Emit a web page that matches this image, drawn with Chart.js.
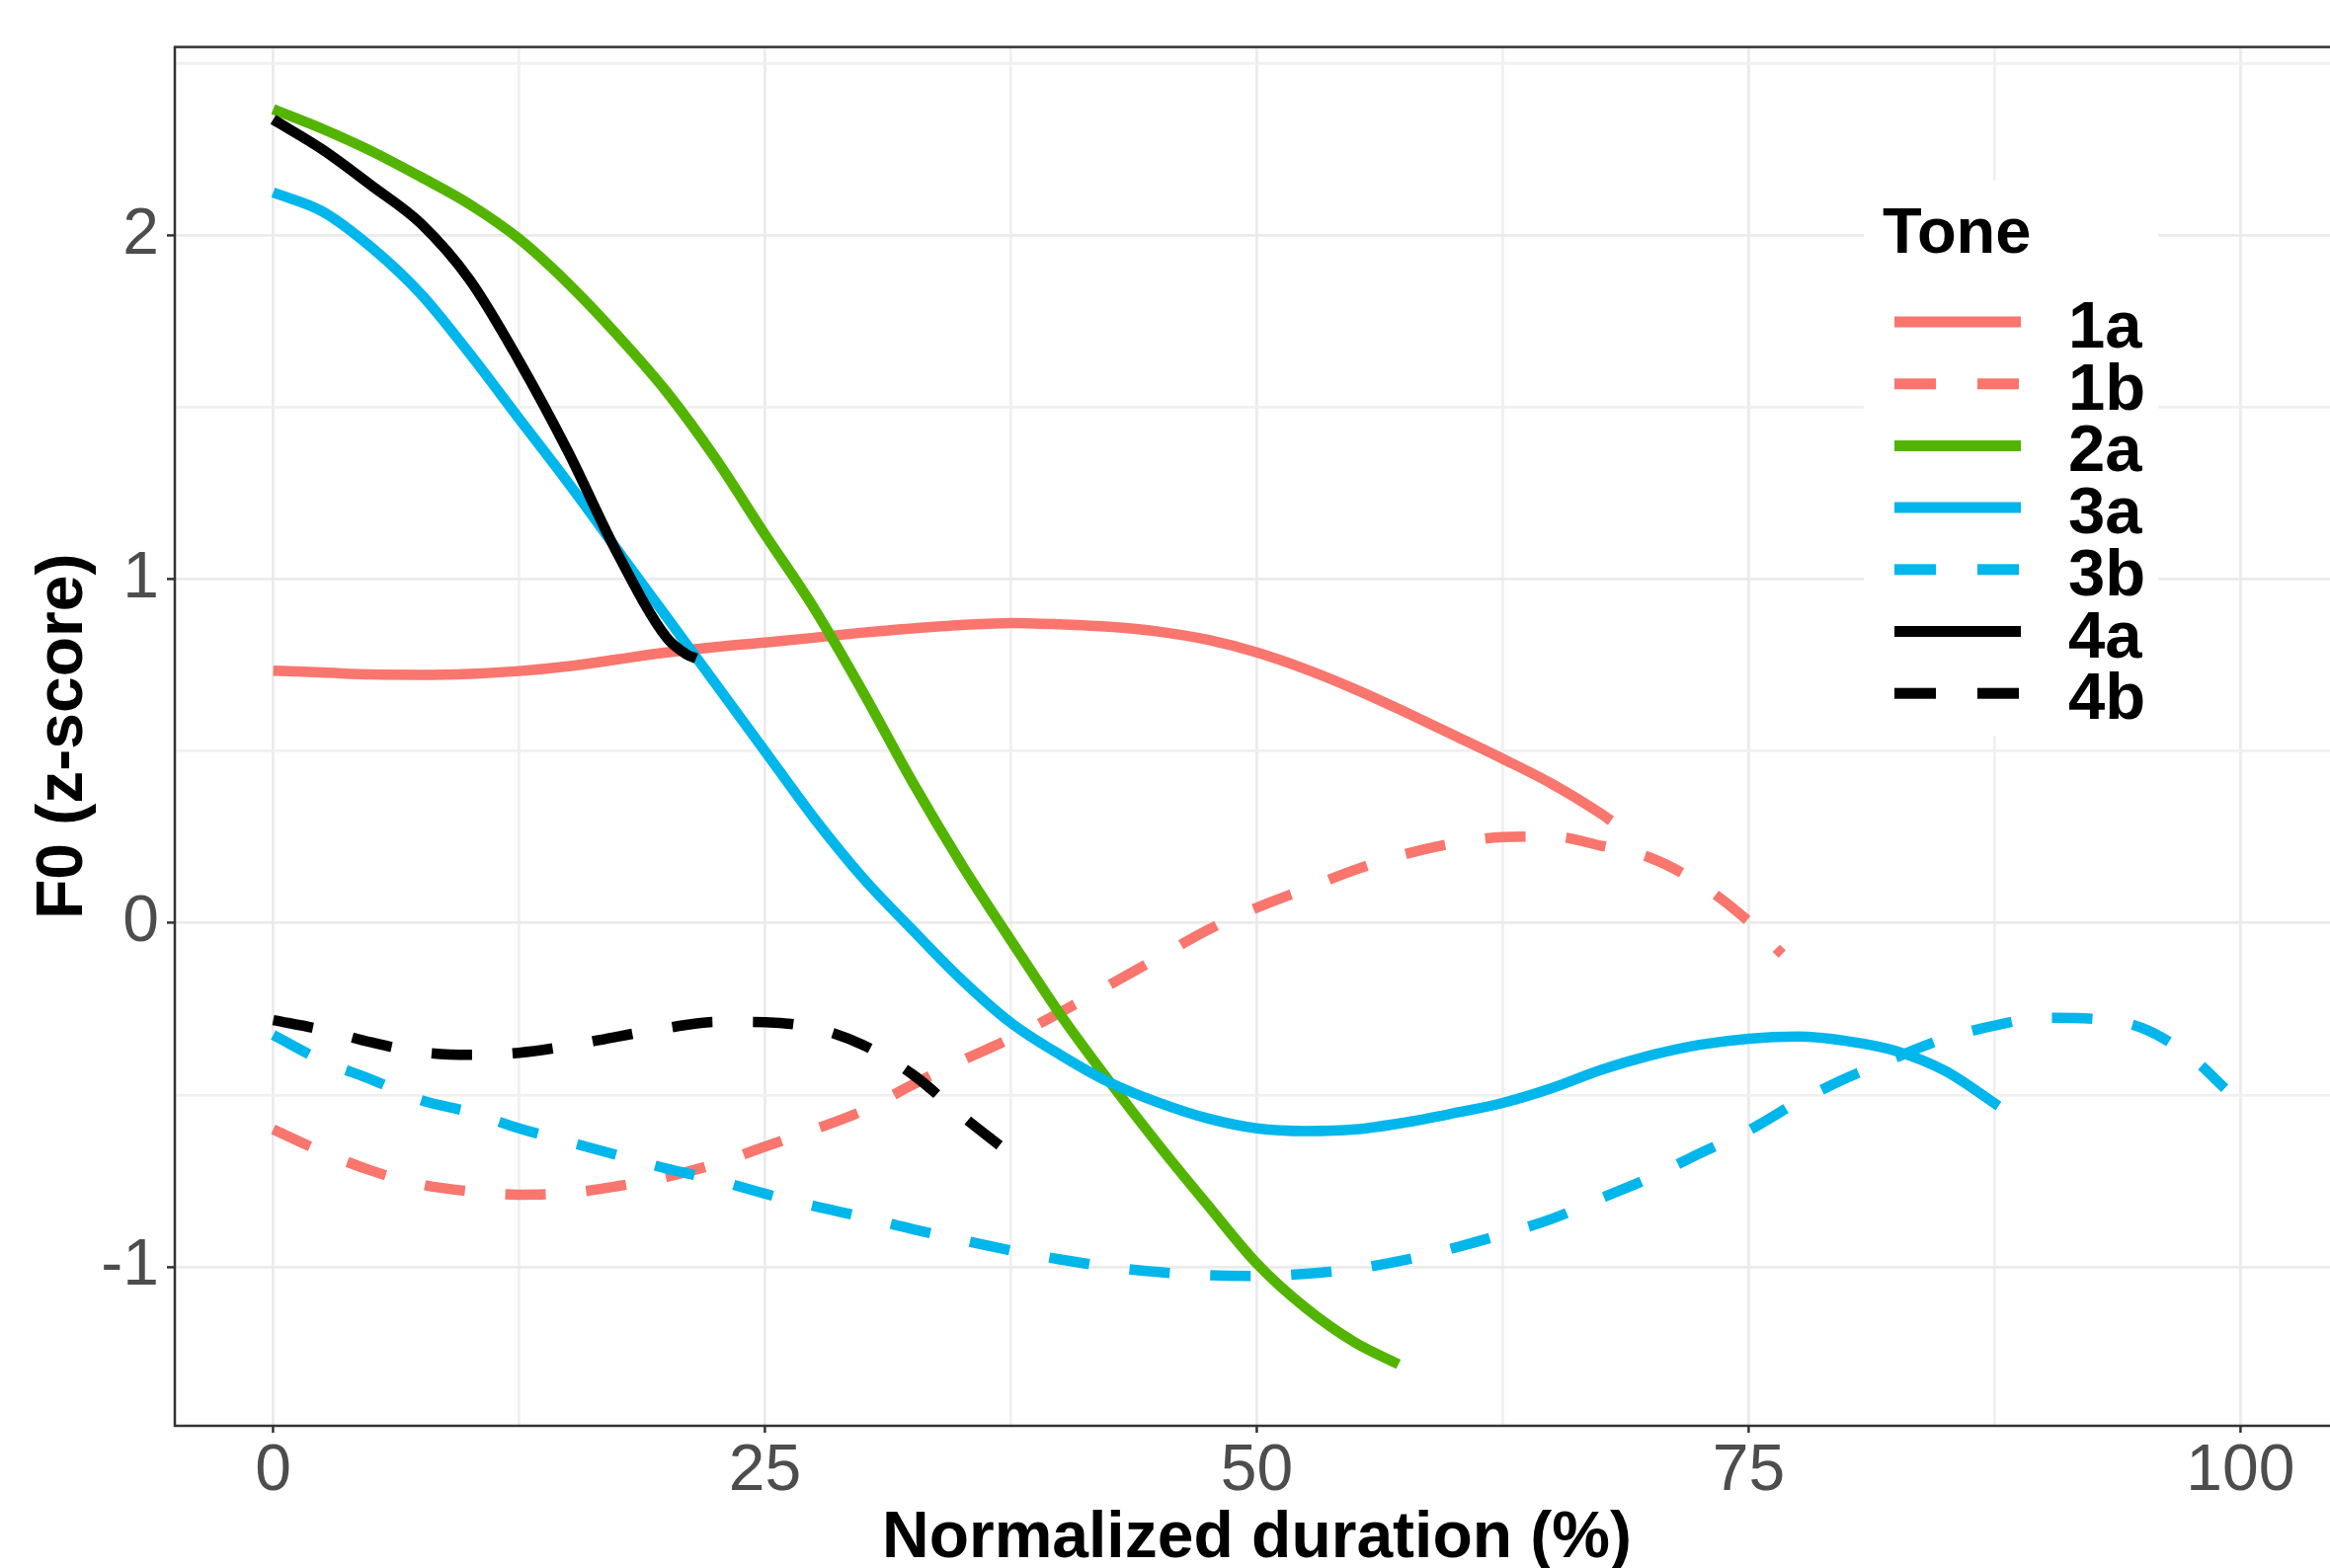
<!DOCTYPE html>
<html>
<head>
<meta charset="utf-8">
<script src="https://cdn.jsdelivr.net/npm/chart.js@4/dist/chart.umd.min.js"></script>
<style>
  html, body { margin: 0; padding: 0; background: #fff; overflow: hidden; }
  canvas { display: block; }
</style>
</head>
<body>
<canvas id="chart" width="2372" height="1588"></canvas>
<script>
// F0 contours per tone, z-scored, over normalized duration
const tones = ['1a', '1b', '2a', '3a', '3b', '4a', '4b'];
const toneColors = ['#F8766D', '#F8766D', '#53B400', '#00B6EB', '#00B6EB', '#000000', '#000000'];
const dashed = [false, true, false, false, true, false, true];

const x1a = [0, 2.5, 5, 7.5, 10, 12.5, 15, 17.5, 20, 22.5, 25, 27.5, 30, 32.5, 35, 37.5, 40, 42.5, 45, 47.5, 50, 52.5, 55, 57.5, 60, 62.5, 65, 67.5, 68];
const y1a = [0.734, 0.729, 0.723, 0.722, 0.725, 0.733, 0.747, 0.767, 0.787, 0.803, 0.816, 0.83, 0.845, 0.857, 0.867, 0.873, 0.869, 0.862, 0.848, 0.824, 0.787, 0.738, 0.68, 0.615, 0.547, 0.478, 0.405, 0.318, 0.298];

const x1b = [0, 2.5, 5, 7.5, 10, 12.5, 15, 17.5, 20, 22.5, 25, 27.5, 30, 32.5, 35, 37.5, 40, 42.5, 45, 47.5, 50, 52.5, 55, 57.5, 60, 62.5, 65, 67.5, 70, 72.5, 75, 76.7];
const y1b = [-0.6, -0.665, -0.72, -0.76, -0.78, -0.79, -0.785, -0.765, -0.738, -0.7, -0.65, -0.6, -0.545, -0.47, -0.4, -0.335, -0.26, -0.18, -0.1, -0.02, 0.045, 0.1, 0.155, 0.2, 0.232, 0.25, 0.252, 0.225, 0.19, 0.115, 0.005, -0.09];

const x2a = [0, 2.5, 5, 7.5, 10, 12.5, 15, 17.5, 20, 22.5, 25, 27.5, 30, 32.5, 35, 37.5, 40, 42.5, 45, 47.5, 50, 52.5, 55, 57.2];
const y2a = [2.367, 2.31, 2.245, 2.17, 2.09, 1.99, 1.86, 1.71, 1.545, 1.35, 1.13, 0.915, 0.67, 0.41, 0.17, -0.05, -0.265, -0.46, -0.645, -0.82, -0.99, -1.12, -1.22, -1.283];

const x3a = [0, 2.5, 5, 7.5, 10, 12.5, 15, 17.5, 20, 22.5, 25, 27.5, 30, 32.5, 35, 37.5, 40, 42.5, 45, 47.5, 50, 52.5, 55, 57.5, 60, 62.5, 65, 67.5, 70, 72.5, 75, 77.5, 80, 82.5, 85, 87.7];
const y3a = [2.125, 2.07, 1.965, 1.83, 1.655, 1.467, 1.28, 1.085, 0.89, 0.695, 0.5, 0.305, 0.13, -0.02, -0.165, -0.29, -0.383, -0.463, -0.522, -0.568, -0.597, -0.605, -0.6, -0.58, -0.553, -0.523, -0.48, -0.427, -0.385, -0.354, -0.336, -0.33, -0.343, -0.372, -0.43, -0.532];

const x3b = [0, 2.5, 5, 7.5, 10, 12.5, 15, 17.5, 20, 22.5, 25, 27.5, 30, 32.5, 35, 37.5, 40, 42.5, 45, 47.5, 50, 52.5, 55, 57.5, 60, 62.5, 65, 67.5, 70, 72.5, 75, 77.5, 80, 82.5, 85, 87.5, 90, 92.5, 95, 97.5, 99.2];
const y3b = [-0.325, -0.4, -0.455, -0.515, -0.55, -0.597, -0.636, -0.675, -0.714, -0.747, -0.787, -0.823, -0.855, -0.89, -0.922, -0.952, -0.978, -1.0, -1.015, -1.024, -1.026, -1.02, -1.005, -0.98, -0.945, -0.905, -0.86, -0.8, -0.74, -0.67, -0.603, -0.52, -0.45, -0.39, -0.335, -0.298, -0.275, -0.278, -0.305, -0.39, -0.48];

const x4a = [0, 2.5, 5, 7.5, 10, 12.5, 15, 17.5, 20, 21, 21.5];
const y4a = [2.337, 2.25, 2.145, 2.035, 1.87, 1.635, 1.37, 1.075, 0.83, 0.782, 0.77];

const x4b = [0, 2.5, 5, 7.5, 10, 12.5, 15, 17.5, 20, 22.5, 25, 27.5, 30, 32.5, 35, 37];
const y4b = [-0.282, -0.31, -0.347, -0.375, -0.383, -0.377, -0.357, -0.33, -0.305, -0.287, -0.288, -0.305, -0.355, -0.44, -0.56, -0.65];

const xTicks = [0, 25, 50, 75, 100];
const yTicks = [-1, 0, 1, 2];

const xs = [x1a, x1b, x2a, x3a, x3b, x4a, x4b];
const ys = [y1a, y1b, y2a, y3a, y3b, y4a, y4b];

// major + minor grid positions (minor halfway between majors)
const withMinor = (t, extra) => t.flatMap((v, i) => i ? [(v + t[i - 1]) / 2, v] : [v]).concat(extra);
const xGrid = withMinor(xTicks, []);
const yGrid = withMinor(yTicks, [2.5]);

const FONT = '"Liberation Sans", Arial, sans-serif';

const datasets = tones.map((t, i) => ({
  label: t,
  data: xs[i].map((x, k) => ({ x: x, y: ys[i][k] })),
  borderColor: toneColors[i],
  borderWidth: 10.5,
  borderDash: dashed[i] ? [41, 41] : [],
  borderCapStyle: 'butt',
  pointRadius: 0,
  cubicInterpolationMode: 'monotone',
  fill: false,
  order: tones.length - i
}));

const panelBorder = {
  id: 'panelBorder',
  afterDatasetsDraw(chart) {
    const { left, top, right, bottom } = chart.chartArea;
    const ctx = chart.ctx;
    ctx.save();
    ctx.strokeStyle = '#333333';
    ctx.lineWidth = 2.5;
    ctx.strokeRect(left, top, right - left, bottom - top);
    ctx.restore();
  }
};

const toneLegend = {
  id: 'toneLegend',
  afterDraw(chart) {
    const ctx = chart.ctx;
    ctx.save();
    ctx.fillStyle = '#ffffff';
    ctx.fillRect(1887, 183, 298, 562);
    ctx.fillStyle = '#000000';
    ctx.textBaseline = 'alphabetic';
    ctx.font = 'bold 65px ' + FONT;
    ctx.fillText('Tone', 1906, 256);
    ctx.font = 'bold 67px ' + FONT;
    chart.data.datasets.forEach((ds, i) => {
      const y = 326 + i * 62.7;
      ctx.strokeStyle = ds.borderColor;
      ctx.lineWidth = 11;
      ctx.lineCap = 'butt';
      ctx.setLineDash(ds.borderDash.length ? [42, 42] : []);
      ctx.beginPath();
      ctx.moveTo(1918, y);
      ctx.lineTo(2046, y);
      ctx.stroke();
      ctx.setLineDash([]);
      ctx.fillText(ds.label, 2094, y + 26);
    });
    ctx.restore();
  }
};

const gridColor = (major) => (ctx) => major.includes(ctx.tick.value) ? '#EBEBEB' : '#F0F0F0';
const tickColor = (major) => (ctx) => major.includes(ctx.tick.value) ? '#333333' : 'rgba(0,0,0,0)';

new Chart(document.getElementById('chart'), {
  type: 'line',
  data: { datasets: datasets },
  options: {
    responsive: false,
    devicePixelRatio: 1,
    animation: false,
    layout: { padding: { top: 47, right: 4, left: 0, bottom: 0 } },
    plugins: { legend: { display: false }, tooltip: { enabled: false } },
    scales: {
      x: {
        type: 'linear',
        min: -5,
        max: 105,
        afterBuildTicks: (s) => { s.ticks = xGrid.map(v => ({ value: v })); },
        afterFit: (s) => { s.height = 144; },
        border: { display: false },
        grid: {
          color: gridColor(xTicks),
          lineWidth: 2.8,
          tickColor: tickColor(xTicks),
          tickLength: 7,
          tickWidth: 2.5
        },
        ticks: {
          autoSkip: false,
          maxRotation: 0,
          padding: 0,
          color: '#4D4D4D',
          font: { family: FONT, size: 66 },
          callback: (v) => xTicks.includes(v) ? String(v) : ''
        },
        title: {
          display: true,
          text: 'Normalized duration (%)',
          color: '#000000',
          font: { family: FONT, size: 66, weight: 'bold', lineHeight: 1 },
          padding: { top: 0, bottom: -4 }
        }
      },
      y: {
        type: 'linear',
        min: -1.462,
        max: 2.548,
        afterBuildTicks: (s) => { s.ticks = yGrid.map(v => ({ value: v })); },
        afterFit: (s) => { s.width = 177; },
        border: { display: false },
        grid: {
          color: gridColor(yTicks),
          lineWidth: 2.8,
          tickColor: tickColor(yTicks),
          tickLength: 8,
          tickWidth: 2.5
        },
        ticks: {
          autoSkip: false,
          padding: 8,
          color: '#4D4D4D',
          font: { family: FONT, size: 66 },
          callback: (v) => yTicks.includes(v) ? String(v) : ''
        },
        title: {
          display: true,
          text: 'F0 (z-score)',
          color: '#000000',
          font: { family: FONT, size: 66, weight: 'bold', lineHeight: 1 },
          padding: { top: 32, bottom: 0 }
        }
      }
    }
  },
  plugins: [panelBorder, toneLegend]
});
</script>
</body>
</html>
